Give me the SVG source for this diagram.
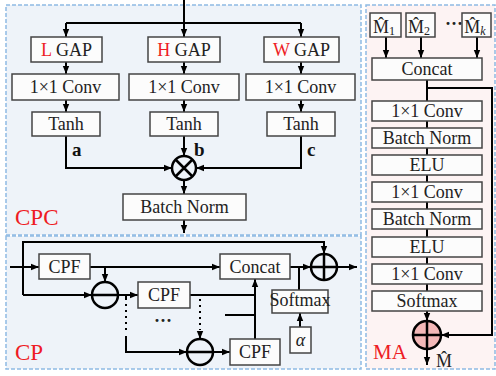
<svg xmlns="http://www.w3.org/2000/svg" width="496" height="376" viewBox="0 0 496 376">
<style>
.panel{stroke:#8fbbe3;stroke-width:1.5;stroke-dasharray:4 2}
.box{fill:#fcfcfc;stroke:#444;stroke-width:1.5}
.t{font-family:"Liberation Serif","Times New Roman",serif;font-size:18px;fill:#222;text-anchor:middle}
.ln{fill:none;stroke:#000;stroke-width:2}
.arr{fill:none;stroke:#000;stroke-width:2;marker-end:url(#ah)}
.dot{fill:none;stroke:#000;stroke-width:2;stroke-dasharray:2 4}
.op{fill:none;stroke:#000;stroke-width:2.5}
.opfill{fill:#f3b8b8;stroke:#000;stroke-width:2.5}
.red{fill:#ee1c24}
.lbl{font-family:"Liberation Serif","Times New Roman",serif;fill:#ee1c24}
.bold{font-family:"Liberation Serif","Times New Roman",serif;font-weight:bold;font-size:19px;fill:#111}
</style>
<defs>
<marker id="ah" viewBox="0 0 10 10" refX="10" refY="5" markerWidth="8" markerHeight="8" markerUnits="userSpaceOnUse" orient="auto">
<path d="M0,1 L10,5 L0,9 z" fill="#000"/>
</marker>
</defs>
<rect width="496" height="376" fill="#ffffff"/>
<!-- panels -->
<rect class="panel" x="6" y="5" width="355" height="230" fill="#eef3f9"/>
<rect class="panel" x="6" y="236" width="355" height="133" fill="#eef3f9"/>
<rect class="panel" x="366" y="5" width="129" height="364" fill="#fdf3f3"/>
<text class="lbl" x="15" y="225" font-size="23">CPC</text>
<text class="lbl" x="15" y="360" font-size="23">CP</text>
<text class="lbl" x="373" y="359" font-size="21">MA</text>

<!-- connectors -->
<g id="connectors">
<!-- CPC -->
<path class="ln" d="M184,0 V23"/>
<path class="ln" d="M66,23 H301"/>
<path class="arr" d="M66,23 V37"/>
<path class="arr" d="M184,23 V37"/>
<path class="arr" d="M301,23 V37"/>
<path class="arr" d="M66,62 V74"/>
<path class="arr" d="M184,62 V74"/>
<path class="arr" d="M301,62 V74"/>
<path class="arr" d="M66,100 V112"/>
<path class="arr" d="M184,100 V112"/>
<path class="arr" d="M301,100 V112"/>
<path class="arr" d="M66,136 V168 H172"/>
<path class="arr" d="M184,136 V156"/>
<path class="arr" d="M301,136 V168 H196"/>
<path class="arr" d="M184,180 V194"/>
<path class="arr" d="M184,220 V233"/>
<!-- CP -->
<path class="arr" d="M10,267 H39"/>
<path class="arr" d="M23,295 V242 H324 V254"/>
<path class="arr" d="M23,295 H92"/>
<path class="arr" d="M90,267 H220"/>
<path class="arr" d="M105,267 V282"/>
<path class="arr" d="M118,295 H138"/>
<path class="ln" d="M126,295 V300"/>
<path class="dot" d="M126,304 V334"/>
<path class="arr" d="M126,336 V352 H187"/>
<path class="ln" d="M190,295 H255"/>
<path class="dot" d="M200,299 V330"/>
<path class="arr" d="M200,331 V339"/>
<path class="ln" d="M225,315 H255"/>
<path class="arr" d="M213,352 H230"/>
<path class="arr" d="M255,339 V279"/>
<path class="arr" d="M290,267 H311"/>
<path class="ln" d="M299,290 V267"/>
<path class="arr" d="M300,327 V313"/>
<path class="arr" d="M337,267 H357"/>
<!-- MA -->
<path class="arr" d="M386,37 V58"/>
<path class="arr" d="M421,37 V58"/>
<path class="arr" d="M477,37 V58"/>
<path class="ln" d="M427,80 V101"/>
<path class="arr" d="M427,88 H492 V335 H441"/>
<path class="ln" d="M427,121 V128"/>
<path class="ln" d="M427,148 V155"/>
<path class="ln" d="M427,175 V182"/>
<path class="ln" d="M427,202 V209"/>
<path class="ln" d="M427,229 V237"/>
<path class="ln" d="M427,257 V264"/>
<path class="ln" d="M427,284 V291"/>
<path class="arr" d="M427,311 V321"/>
<path class="arr" d="M427,349 V365"/>
</g>

<!-- CPC nodes -->
<g id="lgap"><rect class="box" x="31" y="37" width="71" height="25"/><text class="t" x="66.5" y="56"><tspan class="red">L</tspan> GAP</text></g>
<g id="hgap"><rect class="box" x="148" y="37" width="72" height="25"/><text class="t" x="184" y="56"><tspan class="red">H</tspan> GAP</text></g>
<g id="wgap"><rect class="box" x="264" y="37" width="75" height="25"/><text class="t" x="301.5" y="56"><tspan class="red">W</tspan> GAP</text></g>
<g id="lconv"><rect class="box" x="12" y="74" width="107" height="26"/><text class="t" x="65.5" y="93">1×1 Conv</text></g>
<g id="hconv"><rect class="box" x="129" y="74" width="110" height="26"/><text class="t" x="184" y="93">1×1 Conv</text></g>
<g id="wconv"><rect class="box" x="246" y="74" width="109" height="26"/><text class="t" x="300.5" y="93">1×1 Conv</text></g>
<g id="ltanh"><rect class="box" x="32" y="112" width="68" height="24"/><text class="t" x="66" y="130" font-size="17">Tanh</text></g>
<g id="htanh"><rect class="box" x="150" y="112" width="68" height="24"/><text class="t" x="184" y="130" font-size="17">Tanh</text></g>
<g id="wtanh"><rect class="box" x="267" y="112" width="68" height="24"/><text class="t" x="301" y="130" font-size="17">Tanh</text></g>
<g id="labels-abc"><text class="bold" x="72" y="156">a</text><text class="bold" x="194" y="156">b</text><text class="bold" x="307" y="156">c</text></g>
<g id="mul"><circle class="op" cx="184" cy="168" r="12"/><path class="op" d="M175.5,159.5 L192.5,176.5 M192.5,159.5 L175.5,176.5"/></g>
<g id="bn"><rect class="box" x="123" y="194" width="123" height="26"/><text class="t" x="184.5" y="213">Batch Norm</text></g>

<!-- CP nodes -->
<g id="cpf1"><rect class="box" x="39" y="254" width="51" height="25"/><text class="t" x="64.5" y="273">CPF</text></g>
<g id="concat"><rect class="box" x="220" y="254" width="70" height="25"/><text class="t" x="255" y="273">Concat</text></g>
<g id="sub1"><circle class="op" cx="105" cy="295" r="13"/><path class="op" d="M92,295 H118"/></g>
<g id="cpf2"><rect class="box" x="138" y="282" width="52" height="26"/><text class="t" x="164" y="301">CPF</text></g>
<g id="ellipsis"><text class="t" x="163" y="327" font-weight="bold">···</text></g>
<g id="sub2"><circle class="op" cx="200" cy="352" r="13"/><path class="op" d="M187,352 H213"/></g>
<g id="cpf3"><rect class="box" x="230" y="339" width="50" height="26"/><text class="t" x="255" y="358">CPF</text></g>
<g id="softmax-cp"><rect class="box" x="272" y="290" width="56" height="23"/><text class="t" x="300" y="306" font-size="15">Softmax</text></g>
<g id="alpha"><rect class="box" x="290" y="327" width="21" height="26"/><text class="t" x="300.5" y="346" font-size="20" font-style="italic">α</text></g>
<g id="add-cp"><circle class="op" cx="324" cy="267" r="13"/><path class="op" d="M311,267 H337 M324,254 V280"/></g>

<!-- MA nodes -->
<g id="m1"><rect class="box" x="370" y="13" width="31" height="24"/><text class="t" x="384" y="33">M̂<tspan font-size="12" dy="2">1</tspan></text></g>
<g id="m2"><rect class="box" x="406" y="13" width="29" height="24"/><text class="t" x="419" y="33">M̂<tspan font-size="12" dy="2">2</tspan></text></g>
<g id="mdots"><text class="t" x="454" y="30" font-weight="bold">···</text></g>
<g id="mk"><rect class="box" x="462" y="13" width="29" height="24"/><text class="t" x="475" y="33">M̂<tspan font-size="12" dy="2" font-style="italic">k</tspan></text></g>
<g id="ma-concat"><rect class="box" x="372" y="58" width="110" height="22"/><text class="t" x="427" y="75">Concat</text></g>
<g id="ma-conv1"><rect class="box" x="372" y="101" width="110" height="20"/><text class="t" x="427" y="117">1×1 Conv</text></g>
<g id="ma-bn1"><rect class="box" x="372" y="128" width="110" height="20"/><text class="t" x="427" y="144">Batch Norm</text></g>
<g id="ma-elu1"><rect class="box" x="372" y="155" width="110" height="20"/><text class="t" x="427" y="171">ELU</text></g>
<g id="ma-conv2"><rect class="box" x="372" y="182" width="110" height="20"/><text class="t" x="427" y="198">1×1 Conv</text></g>
<g id="ma-bn2"><rect class="box" x="372" y="209" width="110" height="20"/><text class="t" x="427" y="225">Batch Norm</text></g>
<g id="ma-elu2"><rect class="box" x="372" y="237" width="110" height="20"/><text class="t" x="427" y="253">ELU</text></g>
<g id="ma-conv3"><rect class="box" x="372" y="264" width="110" height="20"/><text class="t" x="427" y="280">1×1 Conv</text></g>
<g id="ma-softmax"><rect class="box" x="372" y="291" width="110" height="20"/><text class="t" x="427" y="307">Softmax</text></g>
<g id="add-ma"><circle class="opfill" cx="427" cy="335" r="14"/><path class="op" d="M413,335 H441 M427,321 V349"/></g>
<g id="out-ma"><text class="t" x="444" y="367" font-size="21">M̂</text></g>
</svg>
